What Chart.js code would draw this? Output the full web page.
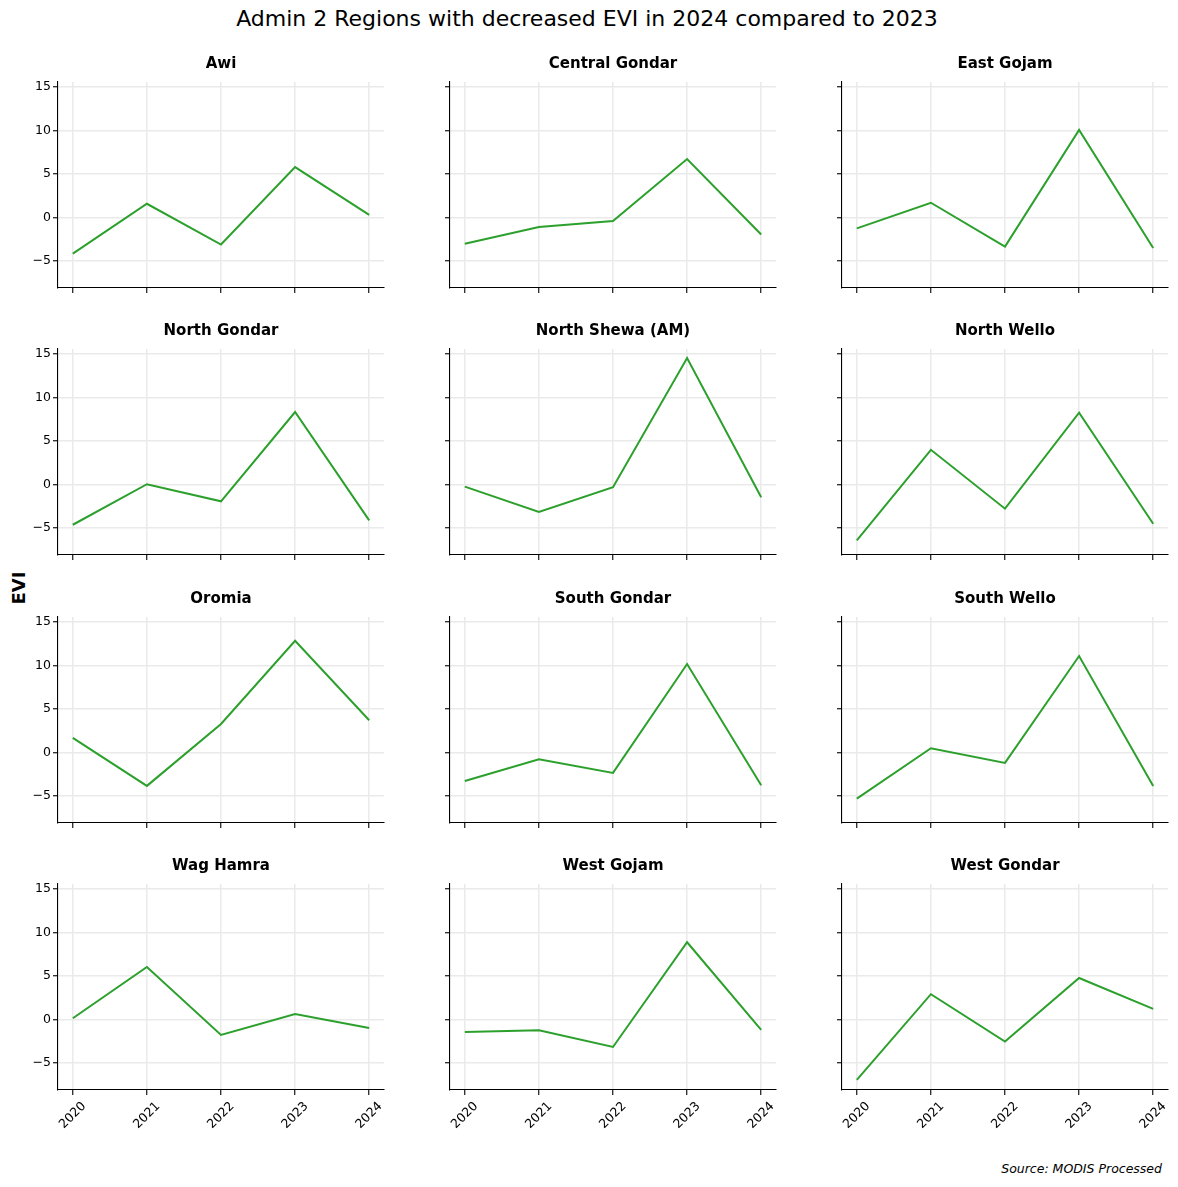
<!DOCTYPE html>
<html><head><meta charset="utf-8">
<script src="https://cdn.jsdelivr.net/npm/chart.js@4.4.1/dist/chart.umd.min.js"></script>
<style>
html,body{margin:0;padding:0;background:#fff;}
body{width:1178px;height:1187px;position:relative;overflow:hidden;font-family:"DejaVu Sans",sans-serif;color:#000;}
canvas{position:absolute;}
#title{position:absolute;left:0;top:6px;width:1174px;text-align:center;font-size:22px;line-height:26px;}
#ylab{position:absolute;left:19px;top:588px;transform:translate(-50%,-50%) rotate(-90deg);font-size:18px;font-weight:bold;white-space:nowrap;line-height:20px;}
#src{position:absolute;right:16px;top:1161px;font-size:12.5px;font-style:italic;line-height:16px;}
</style></head><body>
<div id="title">Admin 2 Regions with decreased EVI in 2024 compared to 2023</div>
<div id="ylab">EVI</div>
<div id="src">Source: MODIS Processed</div>
<script>
// ---- data ----
const years = [2020, 2021, 2022, 2023, 2024];
const regions = ['Awi', 'Central Gondar', 'East Gojam', 'North Gondar', 'North Shewa (AM)', 'North Wello',
                 'Oromia', 'South Gondar', 'South Wello', 'Wag Hamra', 'West Gojam', 'West Gondar'];
const awi           = [-4.15,  1.59, -3.10,  5.81,  0.31];
const centralGondar = [-3.02, -1.09, -0.39,  6.74, -1.94];
const eastGojam     = [-1.24,  1.71, -3.33, 10.08, -3.49];
const northGondar   = [-4.62,  0.04, -1.92,  8.35, -4.12];
const northShewa    = [-0.23, -3.15, -0.31, 14.55, -1.46];
const northWello    = [-6.42,  4.00, -2.77,  8.27, -4.50];
const oromia        = [ 1.69, -3.83,  3.30, 12.87,  3.72];
const southGondar   = [-3.26, -0.77, -2.34, 10.19, -3.75];
const southWello    = [-5.29,  0.50, -1.19, 11.11, -3.83];
const wagHamra      = [ 0.15,  6.06, -1.76,  0.65, -0.96];
const westGojam     = [-1.42, -1.23, -3.15,  8.90, -1.19];
const westGondar    = [-6.94,  2.92, -2.53,  4.79,  1.23];
const seriesList = [awi, centralGondar, eastGojam, northGondar, northShewa, northWello,
                    oromia, southGondar, southWello, wagHamra, westGojam, westGondar];
const yTicks = [-5, 0, 5, 10, 15];

// ---- layout / style ----
const LINE = '#2ca02c', GRID = '#eaeaea', FONT = '"DejaVu Sans", sans-serif';
const PW = 326, PH = 206, SIDE = 50, TOPH = 36, BOT = 50;
const colX = [58, 450, 842];
const rowY = [82, 349, 617, 884];
Chart.defaults.font.family = FONT;

const yearLabelPlugin = {
  id: 'yearLabels',
  afterDraw(chart, args, opts) {
    if (!opts || !opts.show) return;
    const ctx = chart.ctx, xs = chart.scales.x, b = chart.chartArea.bottom;
    ctx.save();
    ctx.font = '12.5px ' + FONT; ctx.fillStyle = '#000';
    ctx.textAlign = 'center'; ctx.textBaseline = 'middle';
    xs.ticks.forEach(t => {
      ctx.save();
      ctx.translate(xs.getPixelForValue(t.value), b + 25.5);
      ctx.rotate(-Math.PI / 4);
      ctx.fillText(String(t.value), 0, 0);
      ctx.restore();
    });
    ctx.restore();
  }
};

const fmt = v => (v < 0 ? '\u2212' + Math.abs(v) : String(v));

regions.forEach((name, i) => {
  const r = Math.floor(i / 3), c = i % 3;
  const cv = document.createElement('canvas');
  cv.width = SIDE + PW + SIDE; cv.height = TOPH + PH + BOT;
  cv.style.left = (colX[c] - SIDE) + 'px';
  cv.style.top = (rowY[r] - TOPH) + 'px';
  cv.style.width = cv.width + 'px'; cv.style.height = cv.height + 'px';
  document.body.appendChild(cv);
  const vals = seriesList[i];
  const gridOpts = {color: GRID, lineWidth: 1.5, drawTicks: true, tickLength: 5, tickColor: '#000', tickWidth: 1.1};
  new Chart(cv, {
    type: 'line',
    data: {datasets: [{
      data: years.map((yr, k) => ({x: yr, y: vals[k]})),
      borderColor: LINE, borderWidth: 2, pointRadius: 0, fill: false, tension: 0
    }]},
    options: {
      responsive: false, animation: false, devicePixelRatio: 1,
      layout: {padding: 0},
      plugins: {
        legend: {display: false}, tooltip: {enabled: false},
        title: {display: true, text: name, color: '#000',
                font: {size: 15, weight: 'bold', family: FONT, lineHeight: 1.2},
                padding: {top: 9.5, bottom: 8.5}},
        yearLabels: {show: r === 3}
      },
      scales: {
        x: {
          type: 'linear', min: 2019.8, max: 2024.2,
          afterBuildTicks: s => { s.ticks = years.map(v => ({value: v})); },
          afterFit: s => { s.height = BOT; },
          grid: gridOpts,
          border: {display: true, color: '#000', width: 1.1},
          ticks: {display: false}
        },
        y: {
          type: 'linear', min: -8.1, max: 15.6,
          afterBuildTicks: s => { s.ticks = yTicks.map(v => ({value: v})); },
          afterFit: s => { s.width = SIDE; },
          grid: gridOpts,
          border: {display: true, color: '#000', width: 1.1},
          ticks: {display: c === 0, color: '#000', font: {size: 12.5, family: FONT}, padding: 2, callback: v => fmt(v)}
        },
        yr: {
          type: 'linear', position: 'right', min: -8.1, max: 15.6,
          afterFit: s => { s.width = SIDE; },
          grid: {display: false, drawTicks: false},
          border: {display: false},
          ticks: {display: false}
        }
      }
    },
    plugins: [yearLabelPlugin]
  });
});
</script>
</body></html>
